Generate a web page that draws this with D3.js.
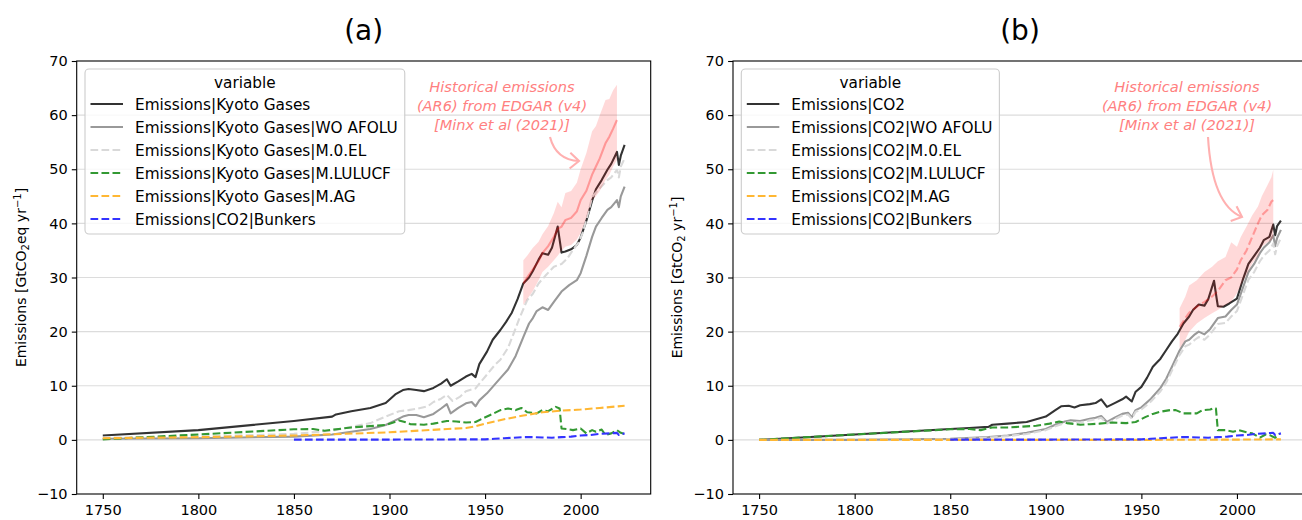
<!DOCTYPE html>
<html>
<head>
<meta charset="utf-8">
<script src="https://cdn.jsdelivr.net/npm/d3@7"></script>
<style>
  body { margin: 0; background: #fff; }
  svg { display: block; font-family: "DejaVu Sans", sans-serif; }
</style>
</head>
<body>
<div id="chart"></div>
<script>
// ---- axis ticks
const xTicks = [1750, 1800, 1850, 1900, 1950, 2000];
const yTicks = [-10, 0, 10, 20, 30, 40, 50, 60, 70];

// ---- panel (a): Kyoto gases
const kyotoYears = [1750,1800,1850,1870,1872,1880,1890,1898,1903,1907,1910,1914,1918,1923,1927,1930,1932,1936,1940,1943,1945,1947,1951,1954,1958,1961,1964,1967,1970,1973,1975,1978,1980,1983,1985,1988,1990,1992,1995,1998,2000,2003,2006,2008,2011,2014,2016,2019,2020,2021,2023];
const kyotoVals  = [0.8,1.8,3.5,4.3,4.7,5.3,5.9,6.8,8.4,9.2,9.4,9.2,9.0,9.6,10.4,11.2,10.0,10.8,11.7,12.2,11.6,14.0,16.3,18.5,20.3,21.8,23.5,26.0,28.9,30.0,31.2,33.3,34.5,34.2,35.5,39.4,34.6,34.8,35.2,36.0,37.4,40.5,44.2,46.3,48.0,49.9,51.0,53.2,50.8,52.5,54.5];

const kyotoWoYears = [1750,1800,1850,1870,1880,1890,1898,1903,1907,1910,1914,1918,1923,1927,1930,1932,1936,1940,1943,1945,1947,1951,1955,1958,1962,1966,1970,1973,1975,1977,1980,1983,1986,1990,1994,1998,2000,2003,2006,2008,2011,2014,2016,2019,2020,2021,2023];
const kyotoWoVals  = [0.2,0.3,0.6,1.0,1.5,2.0,2.75,3.6,4.3,4.6,4.6,4.2,4.8,5.8,6.6,4.9,5.9,6.75,7.0,6.2,7.3,8.6,10.2,11.4,13.0,15.5,19.0,21.5,22.5,23.8,24.5,24.0,25.5,27.4,28.6,29.5,30.8,34.0,37.5,39.4,41.0,42.5,43.0,44.3,43.0,45.0,46.8];

const kyotoElYears = [1750,1800,1850,1870,1880,1890,1898,1905,1910,1915,1920,1923,1927,1930,1933,1937,1940,1945,1948,1952,1955,1958,1962,1965,1968,1972,1975,1978,1982,1986,1990,1993,1996,1999,2001,2004,2006,2010,2014,2016,2019,2020,2021,2023];
const kyotoElVals  = [0.4,0.6,1.1,1.7,2.4,3.1,4.3,5.3,5.5,5.8,6.2,7.0,7.6,8.3,7.2,8.0,9.0,9.5,10.8,12.5,13.8,14.8,17.0,19.7,22.5,25.8,27.0,28.9,30.5,32.0,32.5,33.5,35.1,36.5,38.2,42.0,44.9,46.5,48.0,48.5,49.9,48.5,50.5,52.0];

const kyotoLuYears = [1750,1800,1850,1860,1866,1880,1898,1902,1905,1908,1911,1918,1923,1930,1935,1940,1945,1949,1954,1958,1962,1966,1969,1972,1977,1980,1983,1987,1989,1990,1993,1996,2000,2003,2006,2008,2011,2013,2016,2019,2021,2023];
const kyotoLuVals  = [0.1,1.0,1.95,2.0,1.7,2.3,2.75,3.2,3.6,3.3,2.9,2.8,3.0,3.5,3.4,3.2,3.3,4.0,4.8,5.5,5.8,5.5,5.9,5.1,4.9,5.5,5.3,6.1,5.8,2.1,2.0,1.8,2.1,1.2,1.8,1.5,1.9,0.9,1.2,1.8,1.3,1.1];

const kyotoAgYears = [1750,1800,1850,1900,1940,1945,1950,1960,1970,1980,1990,2000,2010,2023];
const kyotoAgVals  = [0.3,0.5,0.8,1.4,2.2,2.5,3.0,3.8,4.5,5.1,5.4,5.6,5.9,6.3];

// ---- shared: bunkers
const bunkerYears = [1850,1900,1950,1955,1960,1965,1970,1975,1980,1985,1990,1995,2000,2005,2010,2015,2019,2020,2021,2023];
const bunkerVals  = [0.05,0.05,0.1,0.2,0.3,0.4,0.5,0.5,0.45,0.4,0.5,0.6,0.8,0.9,1.1,1.2,1.3,0.9,1.0,1.2];

// ---- panel (a): AR6 historical band
const ar6GhgYears = [1970,1972,1975,1978,1980,1983,1986,1988,1990,1992,1995,1998,2000,2003,2006,2008,2010,2013,2015,2017,2019];
const ar6GhgHigh  = [33.2,34,35.5,36.6,38,39.5,41.9,44,43,45.6,46,47.5,50,53,57,58,60,62.8,63,64.6,65.6];
const ar6GhgLow   = [24.9,26,27.5,29.5,31,32,33.2,34,35,35.7,36,37,38.2,41,44.3,45,46,48,49,50.5,51.7];
const ar6GhgMid   = [28.9,30,31.5,33.0,34.5,35.8,37.5,39,39.4,40.6,41,42.2,44.3,46,49,50.5,52,54.8,56,57.5,59.1];

// ---- panel (b): CO2
const co2Years = [1750,1800,1850,1860,1870,1872,1880,1890,1895,1900,1905,1908,1912,1915,1918,1923,1926,1929,1932,1936,1940,1942,1945,1947,1950,1953,1956,1960,1963,1966,1969,1972,1975,1977,1980,1983,1985,1988,1989,1990,1993,1996,2000,2003,2006,2009,2012,2014,2017,2019,2020,2021,2023];
const co2Vals  = [0.0,1.0,2.0,2.2,2.4,2.8,3.0,3.3,3.8,4.3,5.5,6.2,6.3,6.0,6.4,6.6,6.8,7.5,6.1,6.8,7.5,8.0,7.1,8.9,9.8,11.5,13.5,15.0,16.6,18.2,19.6,21.5,22.8,24.0,25.0,24.8,26.0,29.4,27.0,24.7,24.6,25.2,26.1,29.5,32.5,34.0,35.5,36.9,37.5,39.8,37.8,39.5,40.5];

const co2WoYears = [1750,1800,1850,1870,1880,1890,1900,1905,1910,1913,1918,1923,1926,1929,1932,1936,1940,1943,1945,1947,1950,1955,1960,1963,1966,1970,1973,1975,1978,1980,1983,1986,1990,1994,1997,2000,2003,2006,2009,2012,2014,2017,2019,2020,2021,2023];
const co2WoVals  = [0,0,0.2,0.5,0.8,1.3,2.0,2.8,3.4,3.6,3.5,3.9,4.1,4.4,3.3,4.1,4.8,5.0,4.2,5.5,6.0,7.6,9.6,11.3,13.5,16.5,18.2,18.5,19.5,20.0,19.5,20.5,22.5,22.8,24.0,25.0,28.0,31.0,32.5,34.5,35.5,36.5,37.8,35.8,37.3,38.8];
const co2ElVals  = [0,0,0.1,0.4,0.7,1.1,1.8,2.5,3.1,3.3,3.2,3.6,3.8,4.1,3.0,3.8,4.5,4.7,3.9,5.2,5.6,7.1,9.0,10.6,12.8,15.7,17.3,17.6,18.5,19.0,18.5,19.5,21.4,21.6,22.8,23.8,26.7,29.6,31.0,33.0,34.0,35.0,36.3,34.3,35.8,37.3];

const co2LuYears = [1750,1800,1850,1860,1866,1872,1880,1895,1902,1907,1911,1918,1923,1928,1935,1942,1947,1952,1956,1960,1965,1968,1972,1976,1979,1982,1986,1988,1989,1990,1994,1998,2001,2005,2008,2012,2015,2017,2020,2022];
const co2LuVals  = [0,1.0,1.95,2.0,1.8,2.3,2.3,2.6,3.0,3.4,3.1,2.8,2.9,3.0,3.2,3.1,3.3,4.2,4.8,5.2,5.5,5.5,4.9,4.9,4.9,5.5,5.6,5.9,5.8,1.8,1.8,1.5,1.8,1.4,1.2,0.4,1.0,0.9,0.4,1.1];

const co2AgYears = [1750,1950,2000,2023];
const co2AgVals  = [0.0,0.0,0.05,0.1];

// ---- panel (b): AR6 historical band
const ar6Co2Years = [1970,1973,1975,1979,1983,1987,1990,1994,1997,2000,2002,2005,2008,2011,2013,2016,2018,2019];
const ar6Co2High  = [24.3,26.5,28.5,29.5,31,32.0,33,33.8,36.5,35.7,37.5,39.4,41.5,43.1,45,47.1,48.5,49.9];
const ar6Co2Low   = [16.9,18.5,20,21.5,22.5,23.4,24,24.9,25.5,27.1,28.5,30.5,32.6,34,35.7,36.5,36.9,37.5];
const ar6Co2Mid   = [20.9,22.5,23.5,24.6,25.5,26.5,27.5,29.5,30,31.5,33.2,35,37.5,40,41.5,42.5,44,44.3];

const noteLines = ["Historical emissions", "(AR6) from EDGAR (v4)", "[Minx et al (2021)]"];

// ---- styles
const DASH = "7.7,3.3";
const styles = [
  { color: "#333333", dash: null },
  { color: "#999999", dash: null },
  { color: "#d9d9d9", dash: DASH },
  { color: "#339933", dash: DASH },
  { color: "#ffb733", dash: DASH },
  { color: "#3333ff", dash: DASH }
];

function zipPts(years, vals) {
  return years.map((yr, i) => ({ yr: yr, v: vals[i] }));
}

const svg = d3.select("#chart").append("svg")
  .attr("width", 1302)
  .attr("height", 520);

function drawPanel(p) {
  const left = p.left, width = 574, top = 61, bottom = 494;

  const x = d3.scaleLinear().domain([1736.35, 2036.65]).range([left, left + width]);
  const y = d3.scaleLinear().domain([-10, 70]).range([bottom, top]);

  const g = svg.append("g");

  // horizontal grid
  g.append("g").selectAll("line")
    .data(yTicks.slice(1, -1))
    .enter().append("line")
    .attr("x1", left).attr("x2", left + width)
    .attr("y1", d => y(d)).attr("y2", d => y(d))
    .attr("stroke", "#dcdcdc")
    .attr("stroke-width", 1.1);

  const line = d3.line().x(d => x(d.yr)).y(d => y(d.v));

  // series
  p.series.forEach((s, i) => {
    g.append("path")
      .datum(zipPts(s.years, s.vals))
      .attr("d", line)
      .attr("fill", "none")
      .attr("stroke", styles[i].color)
      .attr("stroke-width", 2.1)
      .attr("stroke-linejoin", "round")
      .attr("stroke-dasharray", styles[i].dash);
  });

  // AR6 band (drawn over lines, transparent)
  const band = p.band.years.map((yr, i) => ({ yr: yr, lo: p.band.low[i], hi: p.band.high[i] }));
  g.append("path")
    .datum(band)
    .attr("d", d3.area().x(d => x(d.yr)).y0(d => y(d.lo)).y1(d => y(d.hi)))
    .attr("fill", "rgba(255,0,0,0.15)");

  g.append("path")
    .datum(zipPts(p.band.years, p.band.mid))
    .attr("d", line)
    .attr("fill", "none")
    .attr("stroke", "rgba(255,0,0,0.3)")
    .attr("stroke-width", 2.1)
    .attr("stroke-dasharray", p.band.dash);

  // axes
  const xAxis = g.append("g")
    .attr("transform", `translate(0,${bottom})`)
    .call(d3.axisBottom(x).tickValues(xTicks).tickFormat(d3.format("d")).tickSize(4.9).tickPadding(6));
  const yAxis = g.append("g")
    .attr("transform", `translate(${left},0)`)
    .call(d3.axisLeft(y).tickValues(yTicks).tickSize(4.9).tickPadding(4.2));
  [xAxis, yAxis].forEach(a => {
    a.select(".domain").remove();
    a.selectAll("line").attr("stroke", "#000").attr("stroke-width", 1.1);
    a.selectAll("text")
      .attr("fill", "#000")
      .style("font-family", "DejaVu Sans")
      .style("font-size", "14.5px");
  });

  // frame
  g.append("rect")
    .attr("x", left).attr("y", top)
    .attr("width", width).attr("height", bottom - top)
    .attr("fill", "none")
    .attr("stroke", "#000")
    .attr("stroke-width", 1.1);

  // title
  svg.append("text")
    .attr("x", left + width / 2).attr("y", 40)
    .attr("text-anchor", "middle")
    .style("font-size", "28px")
    .text(p.title);

  // y label
  const yl = svg.append("text")
    .attr("transform", `translate(${left - 51},${(top + bottom) / 2}) rotate(-90)`)
    .attr("text-anchor", "middle")
    .style("font-size", "14px");
  yl.append("tspan").text("Emissions [GtCO");
  yl.append("tspan").attr("dy", 3).style("font-size", "10px").text("2");
  yl.append("tspan").attr("dy", -3).text(p.unit + " yr");
  yl.append("tspan").attr("dy", -5).style("font-size", "10px").text("−1");
  yl.append("tspan").attr("dy", 5).text("]");

  // legend
  const lg = g.append("g");
  const lx = left + 8.3, ly = 69;
  const box = lg.append("rect")
    .attr("x", lx).attr("y", ly)
    .attr("rx", 4).attr("ry", 4)
    .attr("fill", "rgba(255,255,255,0.8)")
    .attr("stroke", "#cccccc")
    .attr("stroke-width", 1.1);
  let maxW = 0;
  p.names.forEach((name, i) => {
    const cy = 104 + i * 23;
    lg.append("line")
      .attr("x1", lx + 5.5).attr("x2", lx + 38)
      .attr("y1", cy).attr("y2", cy)
      .attr("stroke", styles[i].color)
      .attr("stroke-width", 2.1)
      .attr("stroke-dasharray", styles[i].dash);
    const t = lg.append("text")
      .attr("x", lx + 50).attr("y", cy + 5.5)
      .style("font-size", "15.3px")
      .text(name);
    maxW = Math.max(maxW, t.node().getComputedTextLength());
  });
  const boxW = 50 + maxW + 7;
  box.attr("width", boxW).attr("height", 165);
  lg.append("text")
    .attr("x", lx + boxW / 2).attr("y", 87.5)
    .attr("text-anchor", "middle")
    .style("font-size", "15.3px")
    .text("variable");

  // annotation
  const note = svg.append("text")
    .attr("text-anchor", "middle")
    .attr("fill", "#ff8080")
    .style("font-style", "italic")
    .style("font-size", "14.6px");
  noteLines.forEach((s, i) => {
    note.append("tspan").attr("x", p.note.x).attr("y", 92 + i * 19).text(s);
  });
  const a = p.note.arrow;
  svg.append("path")
    .attr("d", `M${a[0]},${a[1]} Q${a[2]},${a[3]} ${a[4]},${a[5]}`)
    .attr("fill", "none")
    .attr("stroke", "#ffb0b0")
    .attr("stroke-width", 2.1);
  const ang = Math.atan2(a[5] - a[3], a[4] - a[2]);
  const hl = 12, spread = 0.72;
  svg.append("path")
    .attr("d", `M${a[4] - hl * Math.cos(ang - spread)},${a[5] - hl * Math.sin(ang - spread)} L${a[4]},${a[5]} L${a[4] - hl * Math.cos(ang + spread)},${a[5] - hl * Math.sin(ang + spread)}`)
    .attr("fill", "none")
    .attr("stroke", "#ffb0b0")
    .attr("stroke-width", 2.1);
}

drawPanel({
  left: 76.7,
  title: "(a)",
  unit: "eq",
  names: ["Emissions|Kyoto Gases", "Emissions|Kyoto Gases|WO AFOLU", "Emissions|Kyoto Gases|M.0.EL",
          "Emissions|Kyoto Gases|M.LULUCF", "Emissions|Kyoto Gases|M.AG", "Emissions|CO2|Bunkers"],
  series: [
    { years: kyotoYears, vals: kyotoVals },
    { years: kyotoWoYears, vals: kyotoWoVals },
    { years: kyotoElYears, vals: kyotoElVals },
    { years: kyotoLuYears, vals: kyotoLuVals },
    { years: kyotoAgYears, vals: kyotoAgVals },
    { years: bunkerYears, vals: bunkerVals }
  ],
  band: { years: ar6GhgYears, low: ar6GhgLow, high: ar6GhgHigh, mid: ar6GhgMid, dash: null },
  note: { x: 502, arrow: [550, 137, 556, 160, 579, 161] }
});

drawPanel({
  left: 733,
  title: "(b)",
  unit: "",
  names: ["Emissions|CO2", "Emissions|CO2|WO AFOLU", "Emissions|CO2|M.0.EL",
          "Emissions|CO2|M.LULUCF", "Emissions|CO2|M.AG", "Emissions|CO2|Bunkers"],
  series: [
    { years: co2Years, vals: co2Vals },
    { years: co2WoYears, vals: co2WoVals },
    { years: co2WoYears, vals: co2ElVals },
    { years: co2LuYears, vals: co2LuVals },
    { years: co2AgYears, vals: co2AgVals },
    { years: bunkerYears, vals: bunkerVals }
  ],
  band: { years: ar6Co2Years, low: ar6Co2Low, high: ar6Co2High, mid: ar6Co2Mid, dash: DASH },
  note: { x: 1187, arrow: [1208, 137, 1212, 205, 1242, 217] }
});
</script>
</body>
</html>
